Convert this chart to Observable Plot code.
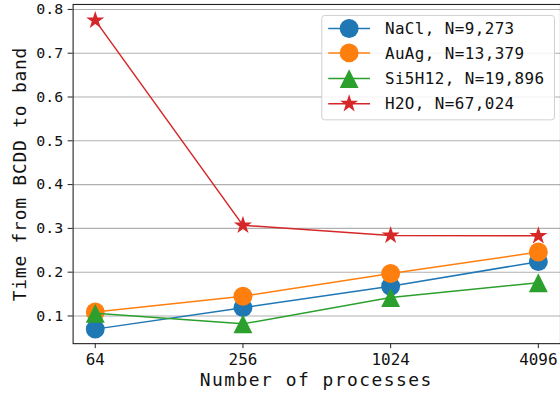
<!DOCTYPE html>
<html><head><meta charset="utf-8">
<script src="https://cdn.jsdelivr.net/npm/d3@7"></script>
<script src="https://cdn.jsdelivr.net/npm/@observablehq/plot@0.6"></script>
<style>
body{margin:0;background:#fff;}
#chart{position:relative;width:560px;height:398px;overflow:hidden;background:#fff;}
#chart svg{overflow:hidden;}
</style></head><body><div id="chart"></div>
<script>
// ---- data ----
const processes = [64, 256, 1024, 4096];
const seriesNames = ["NaCl, N=9,273", "AuAg, N=13,379", "Si5H12, N=19,896", "H2O, N=67,024"];
const naclTime = [0.070, 0.119, 0.168, 0.224];
const auagTime = [0.109, 0.145, 0.197, 0.246];
const si5h12Time = [0.106, 0.082, 0.142, 0.176];
const h2oTime = [0.775, 0.307, 0.284, 0.283];
const yTicks = [0.1, 0.2, 0.3, 0.4, 0.5, 0.6, 0.7, 0.8];
const xTicks = [64, 256, 1024, 4096];
const xLabel = "Number of processes";
const yLabel = "Time from BCDD to band";

// ---- styles ----
const colors = ["#1f77b4", "#ff7f0e", "#2ca02c", "#d62728"];
const mono = "DejaVu Sans Mono";
const triangleMpl = {draw(ctx, size) { const h = Math.sqrt(size / Math.PI); ctx.moveTo(0, -h); ctx.lineTo(-h, h); ctx.lineTo(h, h); ctx.closePath(); }};
const symbolSpec = [
  {symbol: "circle", r: 9.5},
  {symbol: "circle", r: 9.5},
  {symbol: triangleMpl, r: 9.5},
  {symbol: d3.symbolStar, r: 5.7}
];
const allSeries = [naclTime, auagTime, si5h12Time, h2oTime];
const table = allSeries.map((vals, i) => processes.map((p, j) => ({p, t: vals[j], s: seriesNames[i]})));

const W = 563, H = 398;
const marks = [
  Plot.gridY(yTicks, {stroke: "#b0b0b0", strokeOpacity: 1, strokeWidth: 1.1}),
  Plot.axisY(yTicks, {tickSize: 5, tickPadding: 5, fontSize: 15, fontFamily: mono, tickFormat: d3.format(".1f"), stroke: "#222", fill: "#111", label: null}),
  Plot.axisX(xTicks, {tickSize: 5, tickPadding: 5, fontSize: 16, fontFamily: mono, tickFormat: d => String(d), stroke: "#222", fill: "#111", label: null})
];
table.forEach((rows, i) => {
  marks.push(Plot.line(rows, {x: "p", y: "t", stroke: colors[i], strokeWidth: 1.5}));
  marks.push(Plot.dot(rows, {x: "p", y: "t", fill: colors[i], stroke: "none", symbol: () => symbolSpec[i].symbol, r: symbolSpec[i].r}));
});
marks.push(Plot.frame({stroke: "#222", strokeWidth: 1.1}));

const chart = Plot.plot({
  width: W, height: H,
  marginLeft: 73, marginRight: 0, marginTop: 4, marginBottom: 53,
  x: {type: "log", base: 2, domain: [Math.pow(2, 5.7), Math.pow(2, 12.3)]},
  y: {domain: [0.0368, 0.8113]},
  symbol: {type: "identity"},
  style: {background: "#fff", color: "#111"},
  marks
});
document.getElementById("chart").appendChild(chart);

const svg = d3.select(chart);
// axis labels
svg.append("text").attr("x", 318).attr("y", 388).attr("text-anchor", "middle")
  .attr("font-family", mono).attr("font-size", 18).attr("letter-spacing", 1.5).attr("fill", "#111").text(xLabel);
svg.append("text").attr("transform", "translate(26,175) rotate(-90)").attr("text-anchor", "middle")
  .attr("font-family", mono).attr("font-size", 18).attr("letter-spacing", 0.8).attr("fill", "#111").text(yLabel);

// legend
const lg = svg.append("g").attr("text-anchor", "start");
lg.append("rect").attr("x", 323.5).attr("y", 15.5).attr("width", 234).attr("height", 105).attr("rx", 3)
  .attr("fill", "#fff").attr("fill-opacity", 0.85).attr("stroke", "#d0d0d0").attr("stroke-width", 1);
const rowY = [28.7, 53.2, 79, 104.3];
seriesNames.forEach((name, i) => {
  const y = rowY[i];
  lg.append("line").attr("x1", 330).attr("x2", 372).attr("y1", y).attr("y2", y).attr("stroke", colors[i]).attr("stroke-width", 1.5);
  const sym = symbolSpec[i].symbol === "circle" ? d3.symbolCircle : symbolSpec[i].symbol;
  lg.append("path").attr("transform", `translate(351,${y})`).attr("fill", colors[i])
    .attr("d", d3.symbol().type(sym).size(Math.PI * symbolSpec[i].r ** 2)());
  lg.append("text").attr("x", 387).attr("y", y).attr("dy", "0.36em").attr("text-anchor", "start").attr("font-family", mono).attr("font-size", 16)
    .attr("letter-spacing", 0.4).attr("fill", "#111").text(name);
});
</script></body></html>
